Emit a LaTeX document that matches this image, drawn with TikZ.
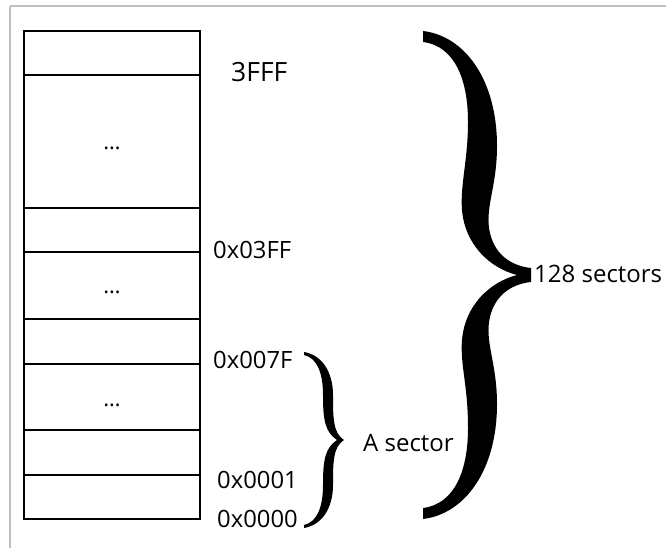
\documentclass[tikz,border=0pt]{standalone}
\usepackage{fontspec}
\setmainfont{Open Sans}
\tikzset{
  frameline/.style={draw=black!25, line width=2pt},
  cellline/.style={draw=black, line width=1.5pt},
  addr/.style={anchor=base west, inner sep=0pt, font=\fontsize{23.8}{28}\selectfont},
  bigaddr/.style={anchor=base west, inner sep=0pt, font=\fontsize{26.5}{31}\selectfont},
  wordlabel/.style={anchor=base west, inner sep=0pt, font=\fontsize{24}{28}\selectfont},
  dotslabel/.style={anchor=base, inner sep=0pt, font=\fontsize{22}{26}\selectfont},
  bracefill/.style={fill=black, draw=none}
}
\begin{document}
\begin{tikzpicture}[x=1pt,y=-1pt]
\useasboundingbox (0,0) rectangle (666,548);
\fill[white] (0,0) rectangle (666,548);
% gray frame (top and left)
\draw[frameline] (10,6) -- (666,6);
\draw[frameline] (10,6) -- (10,548);
% memory column
\draw[cellline] (24,31) rectangle (200,519);
\foreach \yy in {75,208,252,319,364,430,475}
  \draw[cellline] (24,\yy) -- (200,\yy);
% dots
\node[dotslabel] (d1) at (112,150) {…};
\node[dotslabel] (d2) at (112,293) {…};
\node[dotslabel] (d3) at (112,406) {…};
% address labels
\node[bigaddr] (a3fff) at (231,82) {3FFF};
\node[addr] (a03ff) at (213,258) {0x03FF};
\node[addr] (a007f) at (213,368) {0x007F};
\node[addr] (a0001) at (217,488) {0x0001};
\node[addr] (a0000) at (217,527) {0x0000};
% small brace
\path[bracefill] (304,352) .. controls (322,355) and (333,372) .. (333,395)
  .. controls (333,418) and (333,433) .. (344,440)
  .. controls (333,447) and (333,462) .. (333,485)
  .. controls (333,508) and (322,525) .. (304,528)
  -- (304,525)
  .. controls (318,522) and (323,505) .. (323,485)
  .. controls (323,460) and (325,448) .. (337,440)
  .. controls (325,432) and (323,420) .. (323,395)
  .. controls (323,375) and (318,358) .. (304,355) -- cycle;
\node[wordlabel] (asector) at (363,451) {A sector};
% big brace
\path[bracefill] (423,31) .. controls (465,36) and (497,80) .. (497,146)
  .. controls (497,185) and (486,205) .. (489,228)
  .. controls (493,255) and (512,266) .. (531,268)
  -- (531,282)
  .. controls (512,284) and (493,295) .. (489,322)
  .. controls (486,345) and (497,365) .. (497,404)
  .. controls (497,470) and (465,514) .. (423,519)
  -- (423,508)
  .. controls (455,504) and (468,470) .. (468,428)
  .. controls (468,385) and (460,365) .. (462,340)
  .. controls (465,305) and (490,282) .. (517,275)
  .. controls (490,268) and (465,245) .. (462,210)
  .. controls (460,185) and (468,160) .. (468,122)
  .. controls (468,80) and (455,46) .. (423,42) -- cycle;
\node[wordlabel] (sectors) at (534,282) {128 sectors};
\end{tikzpicture}
\end{document}
